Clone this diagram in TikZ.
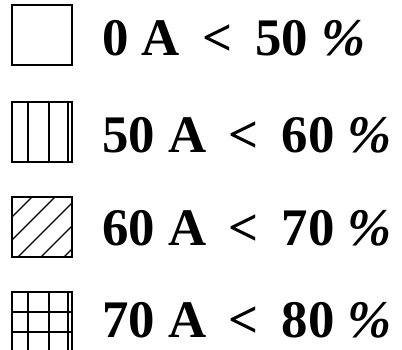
\documentclass[tikz,border=0pt]{standalone}
\usepackage{fontspec}
\setmainfont{Liberation Serif}
\usepackage{tikz}
\usetikzlibrary{positioning}

\newcommand{\lessgap}{\hspace{0.43em}<\hspace{0.43em}}

\tikzset{
  legbox/.style={draw, line width=1.5bp, minimum width=60bp, minimum height=60bp, inner sep=0pt, outer sep=0pt},
  legtext/.style={anchor=base west, inner sep=0pt, font=\fontsize{53}{53}\selectfont\bfseries},
  hatch/.style={line width=1.4bp}
}

\begin{document}
\begin{tikzpicture}[x=1bp, y=-1bp]
        \useasboundingbox (0,0) rectangle (402,350);

        \coordinate (b1) at (42, 35);
        \coordinate (b2) at (42, 132);
        \coordinate (b3) at (42, 227);
        \coordinate (b4) at (42, 322);
        \coordinate (t1) at (102, 55);
        \coordinate (t2) at (102, 152);
        \coordinate (t3) at (102, 245);
        \coordinate (t4) at (102, 337);

        \node[legbox] (box1) at (b1) {};
        \node[legbox] (box2) at (b2) {};
        \node[legbox] (box3) at (b3) {};
        \node[legbox] (box4) at (b4) {};

        \node[legtext] (lab1) at (t1) {0 A\lessgap 50 {\itshape\%}};
        \node[legtext] (lab2) at (t2) {50 A\lessgap 60 {\itshape\%}};
        \node[legtext] (lab3) at (t3) {60 A\lessgap 70 {\itshape\%}};
        \node[legtext] (lab4) at (t4) {70 A\lessgap 80 {\itshape\%}};

        % vertical strips
        \foreach \x in {16, 37, 56} {
            \draw[hatch] (box2.north west) ++(\x, 0) -- ++(0, 60);
            \draw[hatch] (box4.north west) ++(\x, 0) -- ++(0, 60);
        }
        \foreach \y in {20, 40}
            \draw[hatch] (box4.north west) ++(0, \y) -- ++(60, 0);

        % diagonal hatching
        \begin{scope}
            \clip (box3.north west) rectangle (box3.south east);
            \foreach \s in {20, 43, 66, 89, 112}
                \draw[hatch] (box3.north west) ++(0, \s) -- ++(\s, -\s);
        \end{scope}
    \end{tikzpicture}
\end{document}
